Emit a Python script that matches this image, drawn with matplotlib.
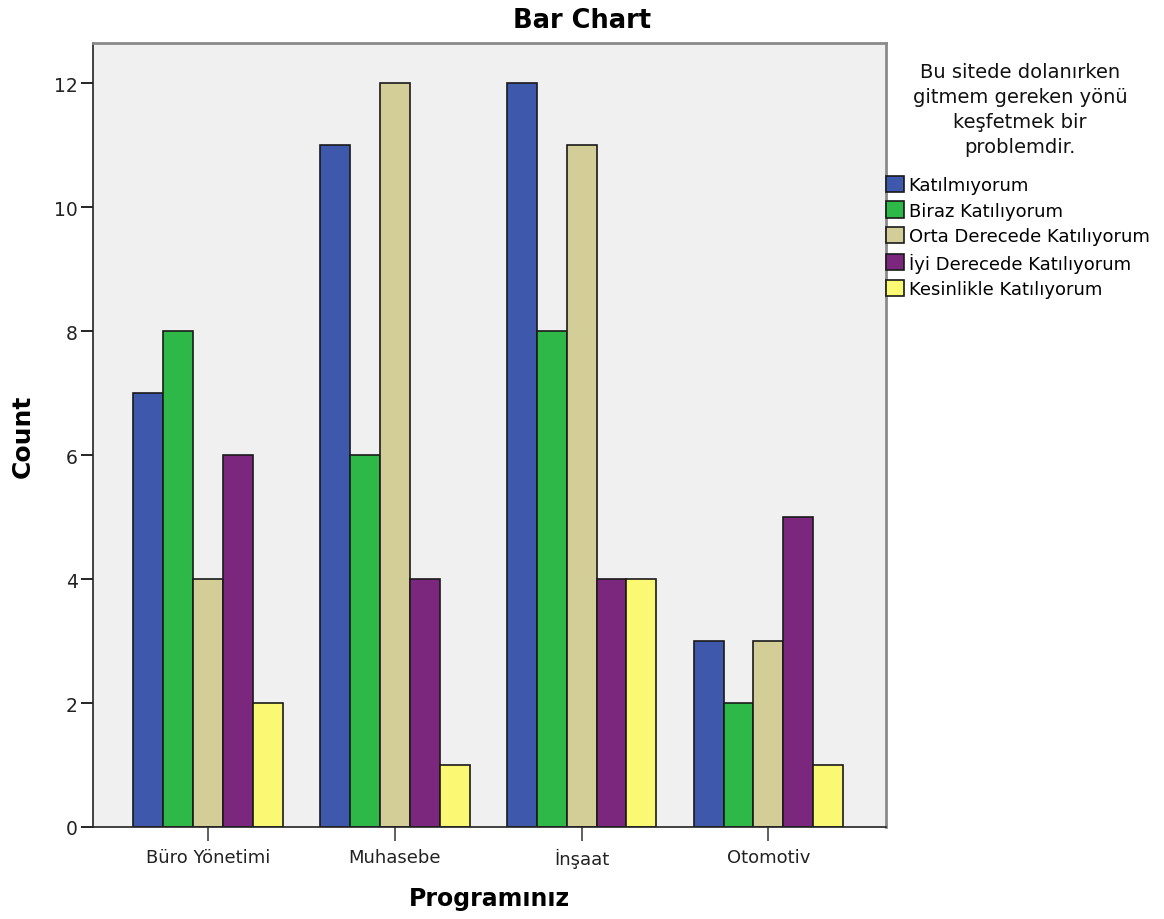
import matplotlib
matplotlib.use("Agg")
import matplotlib.pyplot as plt
import numpy as np
from matplotlib.patches import Patch

categories = ["Büro Yönetimi", "Muhasebe", "İnşaat", "Otomotiv"]
series_names = ["Katılmıyorum", "Biraz Katılıyorum", "Orta Derecede Katılıyorum",
                "İyi Derecede Katılıyorum", "Kesinlikle Katılıyorum"]
katilmiyorum = [7, 11, 12, 3]
biraz = [8, 6, 8, 2]
orta = [4, 12, 11, 3]
iyi = [6, 4, 4, 5]
kesinlikle = [2, 1, 4, 1]
series_values = [katilmiyorum, biraz, orta, iyi, kesinlikle]
colors = ["#3E58AC", "#2EB848", "#D3CE97", "#7B277D", "#FBF873"]
yticks = [0, 2, 4, 6, 8, 10, 12]

plt.rcParams['font.family'] = ['DejaVu Sans']

fig = plt.figure(figsize=(11.64, 9.2), dpi=100)
ax = fig.add_axes([93/1164, 1-828/920, (886-93)/1164, (828-44)/920])
ax.set_facecolor("#F0F0F0")

x = np.arange(len(categories))
w = 0.16
for i, (vals, c) in enumerate(zip(series_values, colors)):
    ax.bar(x + (i - 2) * w, vals, width=w, color=c, edgecolor="#1a1a1a", linewidth=1.2)

ax.set_xlim(-0.616, 3.63)
ax.set_ylim(0, 12.65)
ax.set_yticks(yticks)
ax.set_yticklabels([str(t) for t in yticks], fontsize=13.5, color="#222222")
ax.set_xticks(x)
ax.set_xticklabels(categories, fontsize=13, color="#222222")
ax.tick_params(axis='y', length=9, width=1.2, pad=2)
ax.tick_params(axis='x', length=10, width=1.2, pad=5, color="#444444")
for s in ["left", "bottom"]:
    ax.spines[s].set_color("#222222")
    ax.spines[s].set_linewidth(1.2)
for s in ["top", "right"]:
    ax.spines[s].set_color("#8a8a8a")
    ax.spines[s].set_linewidth(2)

ax.set_xlabel("Programınız", fontsize=17, fontweight="bold", labelpad=13)
ax.set_ylabel("Count", fontsize=18, fontweight="bold", labelpad=14)
fig.text(0.5, 1-21/920, "Bar Chart", ha="center", va="center", fontsize=18.5, fontweight="bold")

fig.text(1020/1164, 1-110/920, "Bu sitede dolanırken\ngitmem gereken yönü\nkeşfetmek bir\nproblemdir.",
         ha="center", va="center", fontsize=14, linespacing=1.38, color="#111111")

handles = [Patch(facecolor=c, edgecolor="#1a1a1a", linewidth=1.2) for c in colors]
leg = fig.legend(handles, series_names, loc="upper left", bbox_to_anchor=(886/1164, 1-177/920),
                 frameon=False, fontsize=13, handlelength=1.0, handleheight=1.0,
                 handletextpad=0.25, labelspacing=0.4, borderaxespad=0, borderpad=0)

fig.savefig("out.png", dpi=100)
